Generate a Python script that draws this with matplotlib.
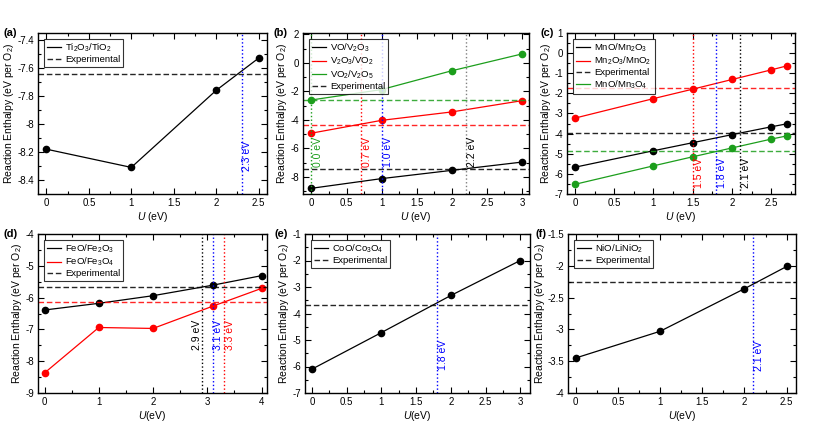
import matplotlib
matplotlib.use('Agg')
import matplotlib.pyplot as plt
from matplotlib.ticker import AutoMinorLocator, MultipleLocator, FuncFormatter

plt.rcParams['font.family'] = ['Liberation Sans', 'DejaVu Sans']
plt.rcParams['axes.unicode_minus'] = False
plt.rcParams['mathtext.fontset'] = 'custom'
plt.rcParams['mathtext.rm'] = 'Liberation Sans'
plt.rcParams['mathtext.it'] = 'Liberation Sans:italic'

RED = '#ff0000'
GREEN = '#1c9e1c'
BLUE = '#0000ff'
GRAY = '#808080'

# (a) Ti
a_u = [0, 1, 2, 2.5]
a_ti = [-8.18, -8.31, -7.76, -7.53]
a_exp = -7.64
a_fit = 2.3

# (b) V
b_u = [0, 1, 2, 3]
b_vo_v2o3 = [-8.8, -8.12, -7.54, -6.96]
b_v2o3_vo2 = [-4.93, -4.03, -3.44, -2.65]
b_vo2_v2o5 = [-2.6, -1.87, -0.55, 0.63]
b_exp = [-7.42, -4.34, -2.58]
b_fit = [0.0, 0.7, 1.0, 2.2]
b_fit_labels = ['0.0 eV', '0.7 eV', '1.0 eV', '2.2 eV']

# (c) Mn
c_u = [0, 1, 1.5, 2, 2.5, 2.7]
c_mno_mn2o3 = [-5.67, -4.85, -4.45, -4.05, -3.66, -3.51]
c_mn2o3_mno2 = [-3.23, -2.26, -1.79, -1.31, -0.83, -0.63]
c_mno_mn3o4 = [-6.52, -5.6, -5.15, -4.71, -4.27, -4.11]
c_exp = [-3.95, -1.75, -4.86]
c_fit = [1.5, 1.8, 2.1]
c_fit_labels = ['1.5 eV', '1.8 eV', '2.1 eV']

# (d) Fe
d_u = [0, 1, 2, 3.1, 4]
d_feo_fe2o3 = [-6.39, -6.18, -5.94, -5.61, -5.31]
d_feo_fe3o4 = [-8.37, -6.94, -6.97, -6.27, -5.71]
d_exp = [-5.68, -6.15]
d_fit = [2.9, 3.1, 3.3]
d_fit_labels = ['2.9 eV', '3.1 eV', '3.3 eV']

# (e) Co
e_u = [0, 1, 2, 3]
e_coo_co3o4 = [-6.1, -4.72, -3.32, -2.0]
e_exp = -3.67
e_fit = 1.8

# (f) Ni
f_u = [0, 1, 2, 2.5]
f_nio_linio2 = [-3.45, -3.03, -2.36, -2.01]
f_exp = -2.25
f_fit = 2.1

W, H = 830, 428
fig = plt.figure(figsize=(W / 100, H / 100), dpi=100)


def make_axes(left, top, right, bottom):
    # pixel box -> figure fraction
    return fig.add_axes([left / W, 1 - bottom / H, (right - left) / W, (bottom - top) / H])


fmt = FuncFormatter(lambda v, p: f'{v:g}')


def style(ax, xlim, ylim, xstep, ystep, xlabel, tag, tag_dx):
    ax.set_xlim(*xlim)
    ax.set_ylim(*ylim)
    ax.xaxis.set_major_locator(MultipleLocator(xstep))
    ax.yaxis.set_major_locator(MultipleLocator(ystep))
    ax.xaxis.set_minor_locator(AutoMinorLocator(2))
    ax.yaxis.set_minor_locator(AutoMinorLocator(2))
    ax.xaxis.set_major_formatter(fmt)
    ax.yaxis.set_major_formatter(fmt)
    ax.tick_params(which='both', direction='in', top=True, right=True, labelsize=7, width=0.8, pad=3)
    ax.tick_params(which='major', length=4)
    ax.tick_params(which='minor', length=2)
    for s in ax.spines.values():
        s.set_linewidth(1.0)
    ax.set_xlabel(xlabel, fontsize=7.5, labelpad=1)
    ax.set_ylabel('Reaction Enthalpy (eV per O$_2$)', fontsize=7.5, labelpad=0.5)
    ax.annotate(tag, xy=(0, 1), xycoords='axes fraction', xytext=(tag_dx, 0),
                textcoords='offset pixels', ha='left', va='center', fontsize=8, fontweight='bold')


def series(ax, u, y, color, label):
    # line carries the legend entry, markers drawn separately
    ax.plot(u, y, '-', color=color, lw=0.9, label=label)
    ax.plot(u, y, 'o', color=color, ms=4.5)


def exp_line(ax, y, color, label=None):
    ax.axhline(y, color=color, ls=(0, (4, 2)), lw=1.0, alpha=0.85, label=label)


def fit_line(ax, x, color, text, tcolor, yfrac, dx=5):
    ax.axvline(x, color=color, ls=':', lw=1.0)
    ax.annotate(text, xy=(x, yfrac), xycoords=('data', 'axes fraction'), xytext=(dx, 0),
                textcoords='offset pixels', rotation=90, ha='center', va='bottom',
                color=tcolor, fontsize=7.5)


def legend(ax):
    leg = ax.legend(loc='upper left', fontsize=6.8, frameon=True, fancybox=False, edgecolor='black',
                    handlelength=1.5, borderpad=0.3, labelspacing=0.1, borderaxespad=0.6,
                    handletextpad=0.5)
    leg.get_frame().set_linewidth(0.8)


# (a)
ax = make_axes(38, 33, 267, 194)
series(ax, a_u, a_ti, 'black', 'Ti$_2$O$_3$/TiO$_2$')
exp_line(ax, a_exp, 'black', 'Experimental')
legend(ax)
fit_line(ax, a_fit, BLUE, '2.3 eV', BLUE, 0.14)
style(ax, (-0.1, 2.6), (-8.5, -7.35), 0.5, 0.2, '$U$ (eV)', '(a)', -34)

# (b)
ax = make_axes(303, 33, 529, 194)
series(ax, b_u, b_vo_v2o3, 'black', 'VO/V$_2$O$_3$')
series(ax, b_u, b_v2o3_vo2, RED, 'V$_2$O$_3$/VO$_2$')
series(ax, b_u, b_vo2_v2o5, GREEN, 'VO$_2$/V$_2$O$_5$')
exp_line(ax, b_exp[0], 'black', 'Experimental')
exp_line(ax, b_exp[1], RED)
exp_line(ax, b_exp[2], GREEN)
legend(ax)
fit_line(ax, b_fit[0], GREEN, b_fit_labels[0], GREEN, 0.17, dx=7)
fit_line(ax, b_fit[1], RED, b_fit_labels[1], RED, 0.17, dx=6)
fit_line(ax, b_fit[2], BLUE, b_fit_labels[2], BLUE, 0.17, dx=6)
fit_line(ax, b_fit[3], GRAY, b_fit_labels[3], 'black', 0.17, dx=6)
style(ax, (-0.12, 3.1), (-9.2, 2.1), 0.5, 2, '$U$ (eV)', '(b)', -30)

# (c)
ax = make_axes(567, 33, 795, 194)
series(ax, c_u, c_mno_mn2o3, 'black', 'MnO/Mn$_2$O$_3$')
series(ax, c_u, c_mn2o3_mno2, RED, 'Mn$_2$O$_3$/MnO$_2$')
exp_line(ax, c_exp[0], 'black', 'Experimental')
series(ax, c_u, c_mno_mn3o4, GREEN, 'MnO/Mn$_3$O$_4$')
exp_line(ax, c_exp[1], RED)
exp_line(ax, c_exp[2], GREEN)
legend(ax)
fit_line(ax, c_fit[0], RED, c_fit_labels[0], RED, 0.04, dx=6)
fit_line(ax, c_fit[1], BLUE, c_fit_labels[1], BLUE, 0.04, dx=6)
fit_line(ax, c_fit[2], 'black', c_fit_labels[2], 'black', 0.04, dx=6)
style(ax, (-0.1, 2.8), (-7, 1), 0.5, 1, '$U$ (eV)', '(c)', -27)

# (d)
ax = make_axes(38, 234, 267, 393)
series(ax, d_u, d_feo_fe2o3, 'black', 'FeO/Fe$_2$O$_3$')
series(ax, d_u, d_feo_fe3o4, RED, 'FeO/Fe$_3$O$_4$')
exp_line(ax, d_exp[0], 'black', 'Experimental')
exp_line(ax, d_exp[1], RED)
legend(ax)
fit_line(ax, d_fit[0], 'black', d_fit_labels[0], 'black', 0.27, dx=-5)
fit_line(ax, d_fit[1], BLUE, d_fit_labels[1], BLUE, 0.27, dx=5)
fit_line(ax, d_fit[2], RED, d_fit_labels[2], RED, 0.27, dx=6)
style(ax, (-0.12, 4.1), (-9, -4), 1, 1, '$U$(eV)', '(d)', -35)

# (e)
ax = make_axes(305, 234, 530, 393)
series(ax, e_u, e_coo_co3o4, 'black', 'CoO/Co$_3$O$_4$')
exp_line(ax, e_exp, 'black', 'Experimental')
legend(ax)
fit_line(ax, e_fit, BLUE, '1.8 eV', BLUE, 0.145, dx=6)
style(ax, (-0.1, 3.14), (-7, -1), 0.5, 1, '$U$(eV)', '(e)', -31)

# (f)
ax = make_axes(568, 234, 796, 393)
series(ax, f_u, f_nio_linio2, 'black', 'NiO/LiNiO$_2$')
exp_line(ax, f_exp, 'black', 'Experimental')
legend(ax)
fit_line(ax, f_fit, BLUE, '2.1 eV', BLUE, 0.14, dx=6)
style(ax, (-0.09, 2.61), (-4, -1.5), 0.5, 0.5, '$U$(eV)', '(f)', -33)

fig.savefig('out.png', dpi=100)
